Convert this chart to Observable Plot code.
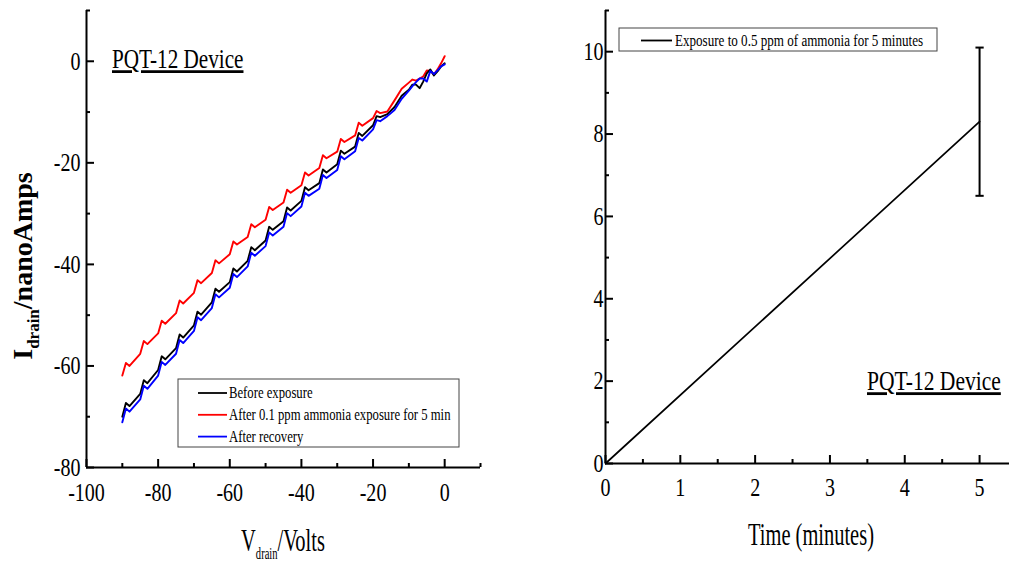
<!DOCTYPE html>
<html><head><meta charset="utf-8">
<script src="https://cdn.jsdelivr.net/npm/d3@7"></script>
<script src="https://cdn.jsdelivr.net/npm/@observablehq/plot@0.6"></script>
<style>
html,body{margin:0;padding:0;background:#fff;}
#wrap{position:relative;width:1010px;height:564px;overflow:hidden;background:#fff;}
#left,#right{position:absolute;top:0;}
#left{left:0;} #right{left:505px;}
svg{overflow:visible;}
</style></head><body><div id="wrap"><div id="left"></div><div id="right"></div></div>
<script>
// ---------- Left panel data ----------
const vdrain = [-90,-89,-88, -85,-84,-83, -80,-79,-78, -75,-74,-73, -70,-69,-68, -65,-64,-63, -60,-59,-58, -55,-54,-53, -50,-49,-48, -45,-44,-43, -40,-39,-38, -35,-34,-33, -30,-29,-28, -25,-24,-23, -20,-19,-18, -16,-14,-12, -10,-9,-8, -7,-6,-5, -4,-3,-2, -1,0];
const beforeExposure = [-70.0,-67.3,-67.9, -65.5,-62.8,-63.4, -60.8,-58.1,-58.7, -56.5,-53.8,-54.4, -52.0,-49.3,-49.9, -47.5,-44.8,-45.4, -43.5,-40.8,-41.4, -39.3,-36.6,-37.2, -35.3,-32.6,-33.2, -31.5,-28.8,-29.4, -27.5,-24.8,-25.4, -24.0,-21.3,-21.9, -20.3,-17.6,-18.2, -16.8,-14.1,-14.7, -12.6,-10.8,-11.0, -10.4,-9.0,-6.8, -5.6,-4.6,-4.6, -5.3,-4.0,-2.4, -1.6,-2.8,-2.0, -1.0,-0.4];
const afterAmmonia = [-61.9,-59.4,-60.0, -57.6,-55.1,-55.7, -53.6,-51.1,-51.7, -49.6,-47.1,-47.7, -45.6,-43.1,-43.7, -41.7,-39.2,-39.8, -38.0,-35.5,-36.1, -34.6,-32.1,-32.7, -31.2,-28.7,-29.3, -27.8,-25.3,-25.9, -24.4,-21.9,-22.5, -21.0,-18.5,-19.1, -17.8,-15.3,-15.9, -14.6,-12.1,-12.7, -11.2,-9.8,-10.2, -9.9,-7.7,-5.4, -4.2,-3.6,-3.8, -3.4,-3.0,-1.8, -1.9,-2.6,-1.6, -0.4,1.0];
const afterRecovery = [-71.1,-68.4,-69.0, -66.6,-63.9,-64.5, -61.9,-59.2,-59.8, -57.6,-54.9,-55.5, -53.1,-50.4,-51.0, -48.6,-45.9,-46.5, -44.6,-41.9,-42.5, -40.4,-37.7,-38.3, -36.4,-33.7,-34.3, -32.6,-29.9,-30.5, -28.6,-25.9,-26.5, -25.1,-22.4,-23.0, -21.4,-18.7,-19.3, -17.7,-15.1,-15.6, -13.4,-11.6,-11.8, -10.8,-9.6,-7.4, -5.8,-4.9,-4.1, -3.4,-3.4,-4.0, -1.9,-2.5,-1.8, -1.0,-0.6];
const seriesNames = ["Before exposure", "After 0.1 ppm ammonia exposure for 5 min", "After recovery"];
const seriesColors = ["#000000", "#ff0000", "#0000ff"];
const leftXMajor = [-100, -80, -60, -40, -20, 0];
const leftXMinor = [-90, -70, -50, -30, -10, 10];
const leftYMajor = [-80, -60, -40, -20, 0];
const leftYMinor = [-70, -50, -30, -10, 10];

// ---------- Right panel data ----------
const timeMinutes = [0, 5];
const response = [0, 8.3];
const errTime = [5];
const errLow = [6.5];
const errHigh = [10.1];
const rightXMajor = [0, 1, 2, 3, 4, 5];
const rightXMinor = [0.5, 1.5, 2.5, 3.5, 4.5];
const rightYMajor = [0, 2, 4, 6, 8, 10];
const rightYMinor = [1, 3, 5, 7, 9, 11];
const rightLegend = "Exposure to 0.5 ppm of ammonia for 5 minutes";
const deviceLabel = "PQT-12 Device";

const FONT = "'Liberation Serif','Times New Roman',Times,serif";
const SQ = 0.77;

function axesMarks(xMaj, xMin, yMaj, yMin, xPad, yPad, xDom0, yDom0) {
  return [
    Plot.ruleY([yDom0], {strokeWidth: 2}),
    Plot.ruleX([xDom0], {strokeWidth: 2}),
    Plot.axisX({ticks: xMaj, tickSize: -8, tickPadding: xPad, tickFormat: d => String(d), label: null, strokeWidth: 2, fontSize: 26}),
    Plot.axisX({ticks: xMin, tickSize: -4, tickFormat: () => "", label: null, strokeWidth: 2}),
    Plot.axisY({ticks: yMaj, tickSize: -8, tickPadding: yPad, tickFormat: d => String(d), label: null, strokeWidth: 2, fontSize: 26}),
    Plot.axisY({ticks: yMin, tickSize: -4, tickFormat: () => "", label: null, strokeWidth: 2})
  ];
}

function squeezeTicks(svg) {
  d3.select(svg).selectAll('g[aria-label$="tick label"] text').each(function () {
    const t = this.getAttribute("transform") || "";
    this.setAttribute("transform", t + ` scale(${SQ},1)`);
  });
}

// ---------- Left plot ----------
const lineMarks = [afterAmmonia, beforeExposure, afterRecovery].map((vals, k) => {
  const idx = [1, 0, 2][k];
  const rows = vdrain.map((v, j) => ({v, i: vals[j]}));
  return Plot.line(rows, {x: "v", y: "i", stroke: seriesColors[idx], strokeWidth: 1.9});
});

const left = Plot.plot({
  width: 505, height: 564,
  marginLeft: 86, marginRight: 25, marginTop: 10, marginBottom: 97,
  x: {domain: [-100, 10]},
  y: {domain: [-80, 10]},
  style: {fontFamily: FONT, fontSize: "26px", background: "transparent", color: "#000"},
  marks: [
    ...axesMarks(leftXMajor, leftXMinor, leftYMajor, leftYMinor, 23, 14, -100, -80),
    ...lineMarks
  ]
});
squeezeTicks(left);
{
  const s = d3.select(left);
  s.append("text").attr("transform", `translate(112,68) scale(${SQ},1)`).attr("text-anchor", "start")
    .attr("font-family", FONT).attr("font-size", 27.5).attr("text-decoration", "underline").text(deviceLabel);
  const g = s.append("g").attr("font-family", FONT).attr("text-anchor", "start");
  g.append("rect").attr("x", 178).attr("y", 379).attr("width", 281).attr("height", 68)
    .attr("fill", "#fff").attr("stroke", "#444").attr("stroke-width", 1);
  seriesNames.forEach((name, i) => {
    const y = 393 + i * 21.8;
    g.append("line").attr("x1", 198).attr("x2", 227).attr("y1", y).attr("y2", y)
      .attr("stroke", seriesColors[i]).attr("stroke-width", 1.8);
    g.append("text").attr("transform", `translate(229,${y}) scale(${SQ},1)`).attr("dy", "0.32em")
      .attr("font-size", 16.5).text(name);
  });
  const xt = s.append("text").attr("transform", `translate(283,551) scale(0.66,1)`)
    .attr("text-anchor", "middle").attr("font-family", FONT).attr("font-size", 31);
  xt.append("tspan").text("V");
  xt.append("tspan").attr("font-size", 16).attr("dy", 8).text("drain");
  xt.append("tspan").attr("dy", -8).text("/Volts");
  const yt = s.append("text").attr("transform", `translate(32,266) rotate(-90)`)
    .attr("text-anchor", "middle").attr("font-family", FONT).attr("font-size", 28).attr("font-weight", "bold");
  yt.append("tspan").text("I");
  yt.append("tspan").attr("font-size", 17).attr("dy", 7).text("drain");
  yt.append("tspan").attr("dy", -7).text("/nanoAmps");
}
document.getElementById("left").appendChild(left);

// ---------- Right plot ----------
const respRows = timeMinutes.map((t, j) => ({t, r: response[j]}));
const errRows = errTime.map((t, j) => ({t, lo: errLow[j], hi: errHigh[j]}));
const capHalf = 0.055;
const right = Plot.plot({
  width: 505, height: 564,
  marginLeft: 100, marginRight: 1, marginTop: 10, marginBottom: 101,
  x: {domain: [0, 5.4]},
  y: {domain: [0, 11]},
  style: {fontFamily: FONT, fontSize: "26px", background: "transparent", color: "#000"},
  marks: [
    ...axesMarks(rightXMajor, rightXMinor, rightYMajor, rightYMinor, 22, 10, 0, 0),
    Plot.line(respRows, {x: "t", y: "r", stroke: "#000", strokeWidth: 1.7}),
    Plot.ruleX(errRows, {x: "t", y1: "lo", y2: "hi", stroke: "#000", strokeWidth: 2}),
    Plot.link(errRows, {x1: d => d.t - capHalf, x2: d => d.t + capHalf, y1: "lo", y2: "lo", stroke: "#000", strokeWidth: 2}),
    Plot.link(errRows, {x1: d => d.t - capHalf, x2: d => d.t + capHalf, y1: "hi", y2: "hi", stroke: "#000", strokeWidth: 2})
  ]
});
squeezeTicks(right);
{
  const s = d3.select(right);
  s.append("text").attr("transform", `translate(362,390) scale(${SQ},1)`).attr("text-anchor", "start")
    .attr("font-family", FONT).attr("font-size", 28).attr("text-decoration", "underline").text(deviceLabel);
  const g = s.append("g").attr("font-family", FONT).attr("text-anchor", "start");
  g.append("rect").attr("x", 114).attr("y", 28).attr("width", 318).attr("height", 23)
    .attr("fill", "#fff").attr("stroke", "#444").attr("stroke-width", 1);
  g.append("line").attr("x1", 136).attr("x2", 167).attr("y1", 40.5).attr("y2", 40.5)
    .attr("stroke", "#000").attr("stroke-width", 1.8);
  g.append("text").attr("transform", `translate(170,40.5) scale(${SQ},1)`).attr("dy", "0.32em")
    .attr("font-size", 17).text(rightLegend);
  s.append("text").attr("transform", `translate(306,545) scale(0.66,1)`)
    .attr("text-anchor", "middle").attr("font-family", FONT).attr("font-size", 31).text("Time (minutes)");
}
document.getElementById("right").appendChild(right);
</script></body></html>
